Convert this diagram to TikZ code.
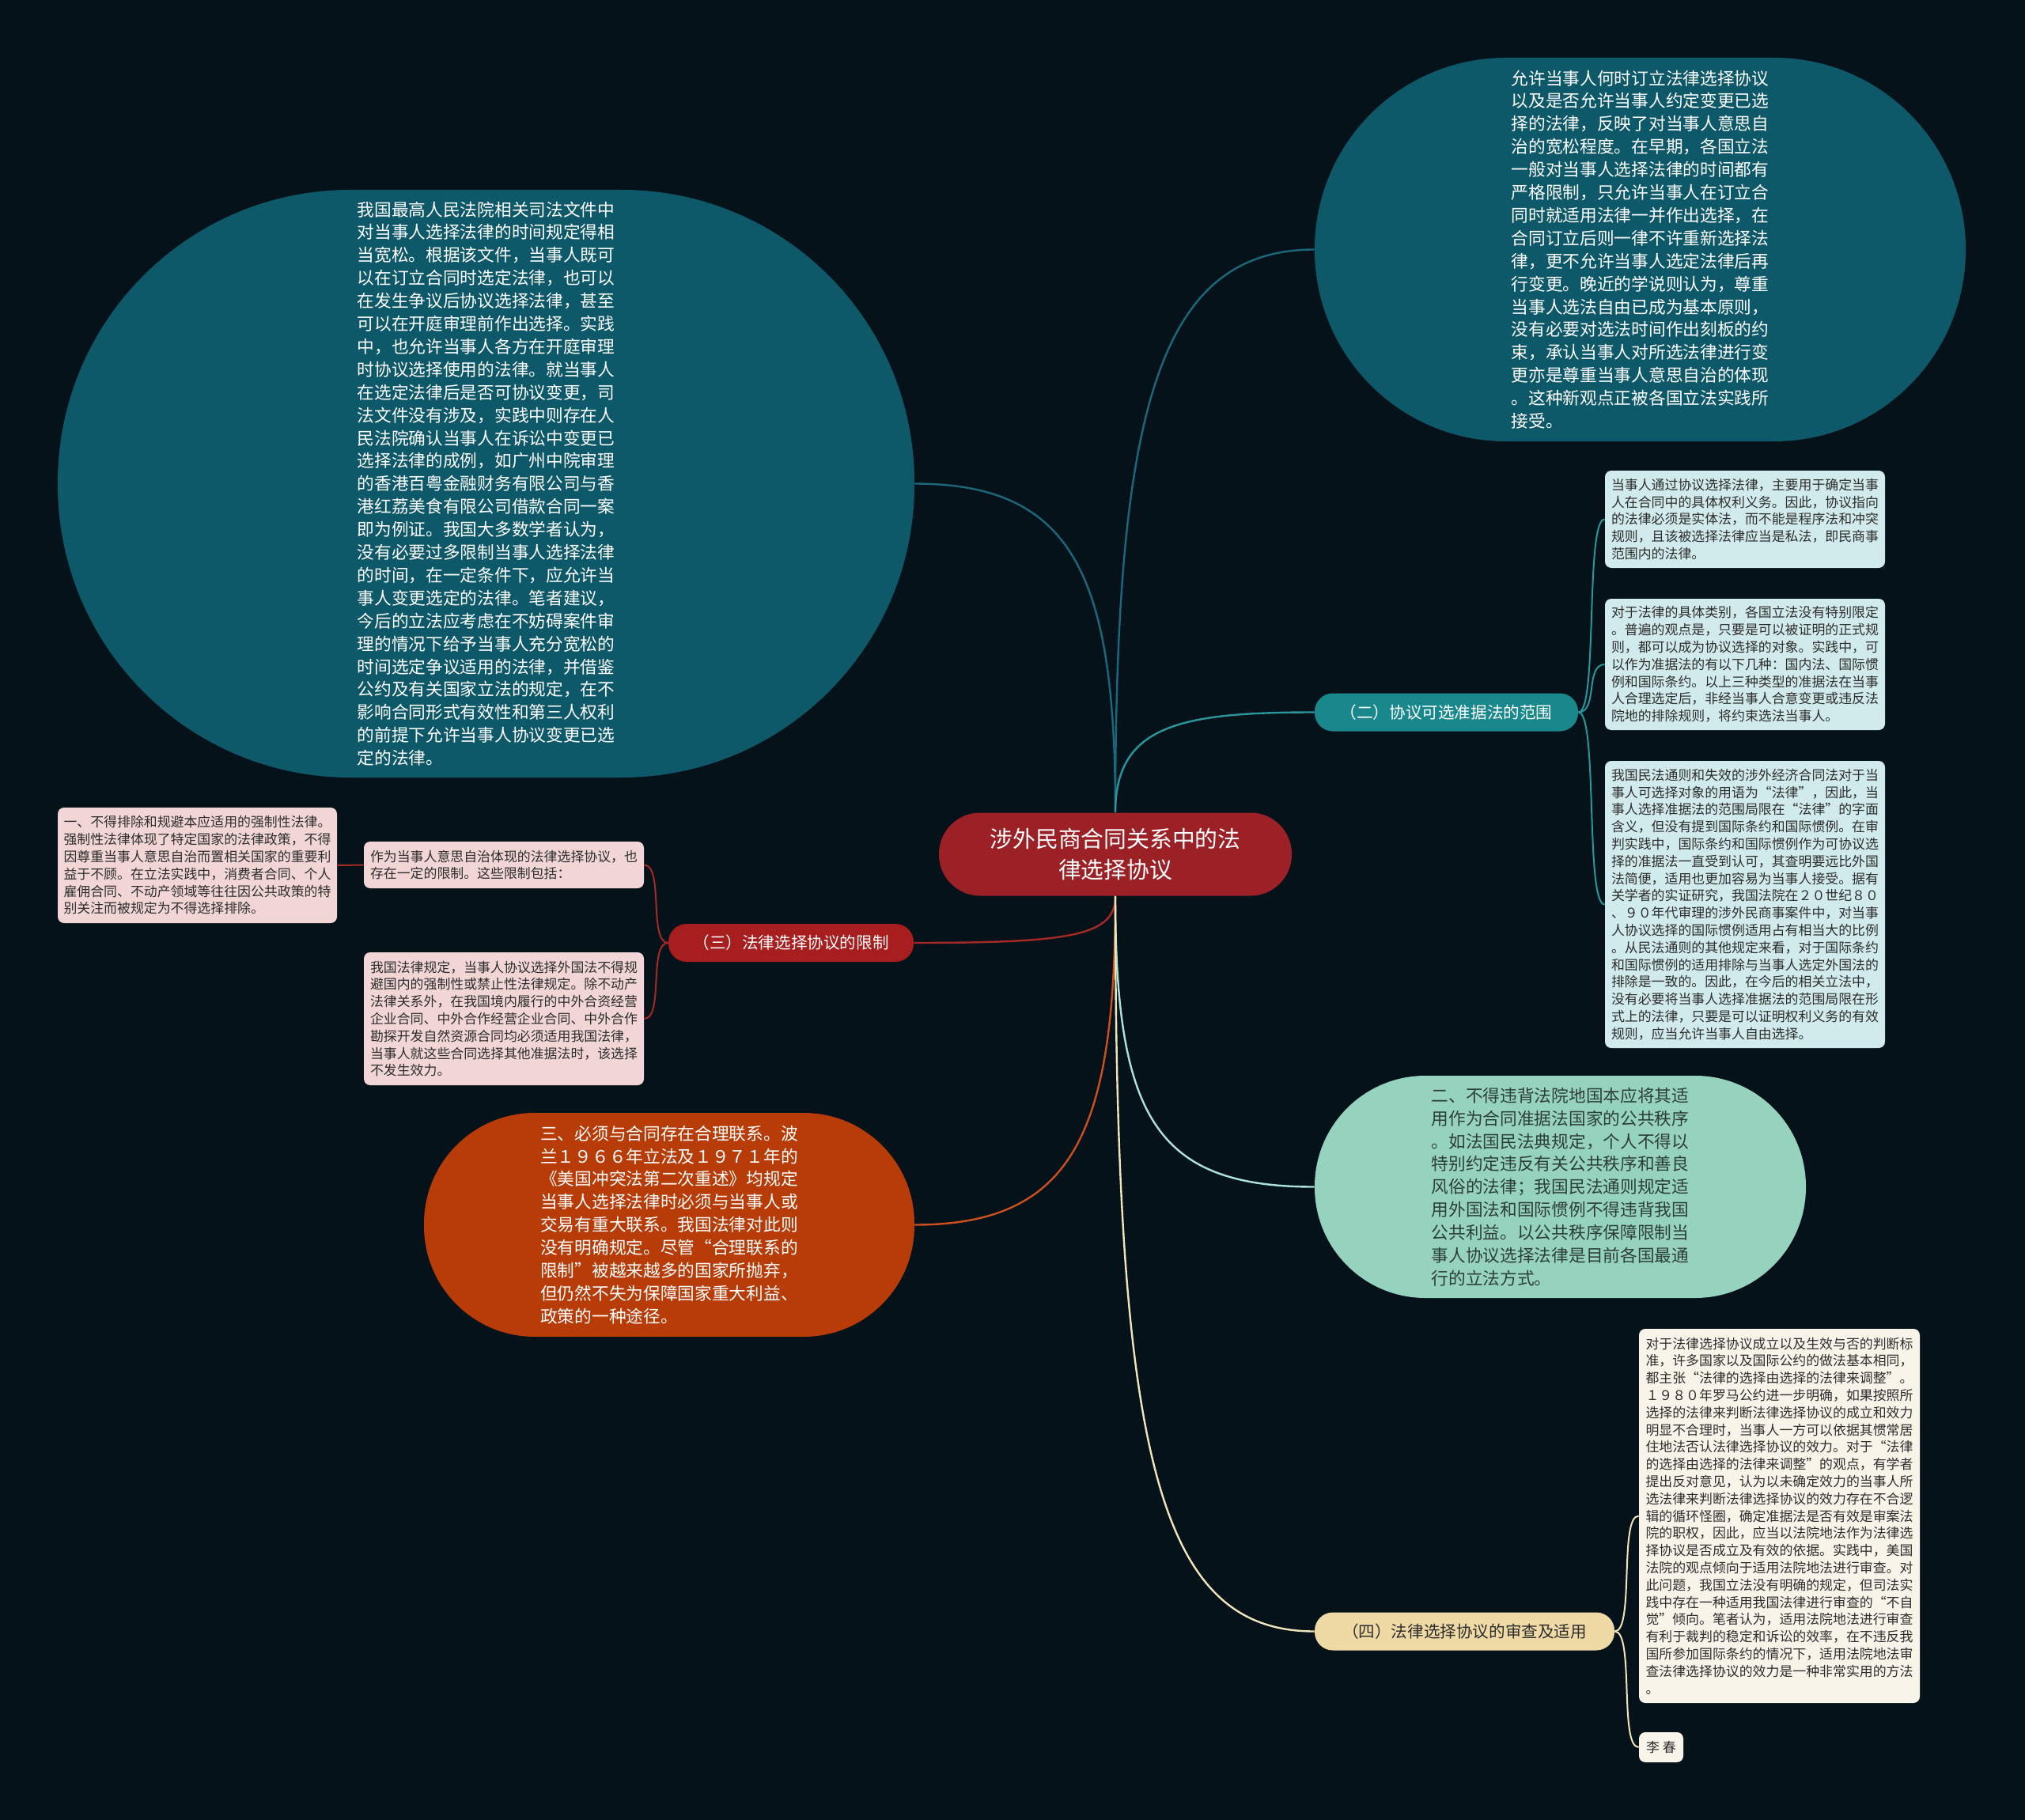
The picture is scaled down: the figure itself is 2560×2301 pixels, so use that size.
\documentclass[tikz,border=0pt]{standalone}
\usepackage{fontspec}
\usepackage{xcolor}
\usepackage{tikz}
\usetikzlibrary{positioning}
\newfontfamily\cjkfont{Noto Sans CJK SC}
\definecolor{bgnavy}{RGB}{6, 18, 26}
\definecolor{rootred}{RGB}{155, 33, 38}
\definecolor{topicteal}{RGB}{14, 89, 105}
\definecolor{linkteal}{RGB}{27, 104, 122}
\definecolor{scopeteal}{RGB}{24, 136, 140}
\definecolor{scopelink}{RGB}{40, 150, 155}
\definecolor{scopecyan}{RGB}{209, 234, 236}
\definecolor{limitred}{RGB}{168, 30, 30}
\definecolor{limitlink}{RGB}{165, 42, 38}
\definecolor{limitpink}{RGB}{242, 214, 214}
\definecolor{nexusorange}{RGB}{184, 60, 8}
\definecolor{nexuslink}{RGB}{204, 80, 30}
\definecolor{ordermint}{RGB}{150, 211, 190}
\definecolor{orderlink}{RGB}{172, 226, 216}
\definecolor{ordertext}{RGB}{45, 62, 57}
\definecolor{reviewtan}{RGB}{239, 218, 166}
\definecolor{reviewlink}{RGB}{240, 228, 186}
\definecolor{reviewcream}{RGB}{248, 244, 233}
\definecolor{leaftext}{RGB}{45, 45, 45}

\begin{document}
\begin{tikzpicture}[
    x=0.5pt, y=-0.5pt,
    root/.style={rectangle, rounded corners=26pt, fill=rootred, text=white, align=center,
                 minimum width=223pt, minimum height=52.5pt, font=\cjkfont\fontsize{14.4}{19.5}\selectfont},
    topic/.style={rectangle, align=left, inner sep=0pt, font=\cjkfont\fontsize{10.85}{14.45}\selectfont},
    branch/.style={rectangle, rounded corners=11.5pt, align=center, inner sep=0pt,
                   minimum height=24pt, font=\cjkfont\fontsize{10.3}{12}\selectfont},
    leaf/.style={rectangle, rounded corners=4pt, align=left, inner sep=3pt, minimum width=177pt,
                 text=leaftext, font=\cjkfont\fontsize{8.45}{10.9}\selectfont},
    link/.style={line width=1.2pt},
    sublink/.style={line width=1pt}
]
    % Background
    \fill[bgnavy] (0,0) rectangle (2560,2301);

    % Root
    \node[root] (root) at (1410,1080) {涉外民商合同关系中的法\\律选择协议};

    % Upper topics
    \node[topic, fill=topicteal, text=white, minimum width=411.5pt, minimum height=242.5pt,
          rounded corners=121pt] (timing) at (2073.5,315.5)
        {允许当事人何时订立法律选择协议\\以及是否允许当事人约定变更已选\\择的法律，反映了对当事人意思自\\治的宽松程度。在早期，各国立法\\一般对当事人选择法律的时间都有\\严格限制，只允许当事人在订立合\\同时就适用法律一并作出选择，在\\合同订立后则一律不许重新选择法\\律，更不允许当事人选定法律后再\\行变更。晚近的学说则认为，尊重\\当事人选法自由已成为基本原则，\\没有必要对选法时间作出刻板的约\\束，承认当事人对所选法律进行变\\更亦是尊重当事人意思自治的体现\\。这种新观点正被各国立法实践所\\接受。};
    \node[topic, fill=topicteal, text=white, minimum width=541.5pt, minimum height=371.5pt,
          rounded corners=185pt] (court) at (614.5,611.5)
        {我国最高人民法院相关司法文件中\\对当事人选择法律的时间规定得相\\当宽松。根据该文件，当事人既可\\以在订立合同时选定法律，也可以\\在发生争议后协议选择法律，甚至\\可以在开庭审理前作出选择。实践\\中，也允许当事人各方在开庭审理\\时协议选择使用的法律。就当事人\\在选定法律后是否可协议变更，司\\法文件没有涉及，实践中则存在人\\民法院确认当事人在诉讼中变更已\\选择法律的成例，如广州中院审理\\的香港百粤金融财务有限公司与香\\港红荔美食有限公司借款合同一案\\即为例证。我国大多数学者认为，\\没有必要过多限制当事人选择法律\\的时间，在一定条件下，应允许当\\事人变更选定的法律。笔者建议，\\今后的立法应考虑在不妨碍案件审\\理的情况下给予当事人充分宽松的\\时间选定争议适用的法律，并借鉴\\公约及有关国家立法的规定，在不\\影响合同形式有效性和第三人权利\\的前提下允许当事人协议变更已选\\定的法律。};

    % Branch (二) and its leaves
    \node[branch, fill=scopeteal, text=white, minimum width=166.5pt] (scope) at (1828.5,900.5)
        {（二）协议可选准据法的范围};
    \node[leaf, fill=scopecyan, minimum height=61.5pt] (scopeA) at (2206,656.5)
        {当事人通过协议选择法律，主要用于确定当事\\人在合同中的具体权利义务。因此，协议指向\\的法律必须是实体法，而不能是程序法和冲突\\规则，且该被选择法律应当是私法，即民商事\\范围内的法律。};
    \node[leaf, fill=scopecyan, minimum height=83pt] (scopeB) at (2206,840)
        {对于法律的具体类别，各国立法没有特别限定\\。普遍的观点是，只要是可以被证明的正式规\\则，都可以成为协议选择的对象。实践中，可\\以作为准据法的有以下几种：国内法、国际惯\\例和国际条约。以上三种类型的准据法在当事\\人合理选定后，非经当事人合意变更或违反法\\院地的排除规则，将约束选法当事人。};
    \node[leaf, fill=scopecyan, minimum height=181.5pt] (scopeC) at (2206,1143.5)
        {我国民法通则和失效的涉外经济合同法对于当\\事人可选择对象的用语为“法律”，因此，当\\事人选择准据法的范围局限在“法律”的字面\\含义，但没有提到国际条约和国际惯例。在审\\判实践中，国际条约和国际惯例作为可协议选\\择的准据法一直受到认可，其查明要远比外国\\法简便，适用也更加容易为当事人接受。据有\\关学者的实证研究，我国法院在２０世纪８０\\、９０年代审理的涉外民商事案件中，对当事\\人协议选择的国际惯例适用占有相当大的比例\\。从民法通则的其他规定来看，对于国际条约\\和国际惯例的适用排除与当事人选定外国法的\\排除是一致的。因此，在今后的相关立法中，\\没有必要将当事人选择准据法的范围局限在形\\式上的法律，只要是可以证明权利义务的有效\\规则，应当允许当事人自由选择。};

    % Branch (三) and its leaves
    \node[branch, fill=limitred, text=white, minimum width=155pt] (limit) at (1000,1192)
        {（三）法律选择协议的限制};
    \node[leaf, fill=limitpink, minimum height=29.5pt] (limitA) at (637,1093.5)
        {作为当事人意思自治体现的法律选择协议，也\\存在一定的限制。这些限制包括：};
    \node[leaf, fill=limitpink, minimum height=84pt] (limitB) at (637,1288)
        {我国法律规定，当事人协议选择外国法不得规\\避国内的强制性或禁止性法律规定。除不动产\\法律关系外，在我国境内履行的中外合资经营\\企业合同、中外合作经营企业合同、中外合作\\勘探开发自然资源合同均必须适用我国法律，\\当事人就这些合同选择其他准据法时，该选择\\不发生效力。};
    \node[leaf, fill=limitpink, minimum width=176.5pt, minimum height=73pt] (mandatory) at (249.5,1094)
        {一、不得排除和规避本应适用的强制性法律。\\强制性法律体现了特定国家的法律政策，不得\\因尊重当事人意思自治而置相关国家的重要利\\益于不顾。在立法实践中，消费者合同、个人\\雇佣合同、不动产领域等往往因公共政策的特\\别关注而被规定为不得选择排除。};

    % Lower topics
    \node[topic, fill=nexusorange, text=white, minimum width=310pt, minimum height=141.5pt,
          rounded corners=70pt] (nexus) at (846,1548.5)
        {三、必须与合同存在合理联系。波\\兰１９６６年立法及１９７１年的\\《美国冲突法第二次重述》均规定\\当事人选择法律时必须与当事人或\\交易有重大联系。我国法律对此则\\没有明确规定。尽管“合理联系的\\限制”被越来越多的国家所抛弃，\\但仍然不失为保障国家重大利益、\\政策的一种途径。};
    \node[topic, fill=ordermint, text=ordertext, minimum width=310.5pt, minimum height=140.5pt,
          rounded corners=70pt] (order) at (1972.5,1500.5)
        {二、不得违背法院地国本应将其适\\用作为合同准据法国家的公共秩序\\。如法国民法典规定，个人不得以\\特别约定违反有关公共秩序和善良\\风俗的法律；我国民法通则规定适\\用外国法和国际惯例不得违背我国\\公共利益。以公共秩序保障限制当\\事人协议选择法律是目前各国最通\\行的立法方式。};

    % Branch (四) and its leaves
    \node[branch, fill=reviewtan, text=leaftext, minimum width=189.5pt] (review) at (1851.5,2062.5)
        {（四）法律选择协议的审查及适用};
    \node[leaf, fill=reviewcream, minimum width=177.5pt, minimum height=236.5pt] (reviewtext) at (2249.5,1916.5)
        {对于法律选择协议成立以及生效与否的判断标\\准，许多国家以及国际公约的做法基本相同，\\都主张“法律的选择由选择的法律来调整”。\\１９８０年罗马公约进一步明确，如果按照所\\选择的法律来判断法律选择协议的成立和效力\\明显不合理时，当事人一方可以依据其惯常居\\住地法否认法律选择协议的效力。对于“法律\\的选择由选择的法律来调整”的观点，有学者\\提出反对意见，认为以未确定效力的当事人所\\选法律来判断法律选择协议的效力存在不合逻\\辑的循环怪圈，确定准据法是否有效是审案法\\院的职权，因此，应当以法院地法作为法律选\\择协议是否成立及有效的依据。实践中，美国\\法院的观点倾向于适用法院地法进行审查。对\\此问题，我国立法没有明确的规定，但司法实\\践中存在一种适用我国法律进行审查的“不自\\觉”倾向。笔者认为，适用法院地法进行审查\\有利于裁判的稳定和诉讼的效率，在不违反我\\国所参加国际条约的情况下，适用法院地法审\\查法律选择协议的效力是一种非常实用的方法\\。};
    \node[leaf, fill=reviewcream, minimum width=28pt, minimum height=19pt, align=center] (author) at (2100,2209)
        {李 春};

    % Links from root
    \draw[link, linkteal] (root.north) .. controls +(0,-500) and +(-200,0) .. (timing.west);
    \draw[link, linkteal] (root.north) .. controls +(0,-300) and +(200,0) .. (court.east);
    \draw[link, scopelink] (root.north) .. controls +(0,-110) and +(-170,0) .. (scope.west);
    \draw[link, limitlink] (root.south) .. controls +(0,50) and +(200,0) .. (limit.east);
    \draw[link, nexuslink] (root.south) .. controls +(0,300) and +(200,0) .. (nexus.east);
    \draw[link, orderlink] (root.south) .. controls +(0,280) and +(-200,0) .. (order.west);
    \draw[link, reviewlink] (root.south) .. controls +(0,700) and +(-200,0) .. (review.west);

    % Links to leaves
    \draw[sublink, scopelink] (scope.east) .. controls +(25,0) and +(-25,0) .. (scopeA.west);
    \draw[sublink, scopelink] (scope.east) .. controls +(25,0) and +(-25,0) .. (scopeB.west);
    \draw[sublink, scopelink] (scope.east) .. controls +(25,0) and +(-25,0) .. (scopeC.west);
    \draw[sublink, limitlink] (limit.west) .. controls +(-25,0) and +(25,0) .. (limitA.east);
    \draw[sublink, limitlink] (limit.west) .. controls +(-25,0) and +(25,0) .. (limitB.east);
    \draw[sublink, limitlink] (limitA.west) -- (mandatory.east);
    \draw[sublink, reviewlink] (review.east) .. controls +(25,0) and +(-25,0) .. (reviewtext.west);
    \draw[sublink, reviewlink] (review.east) .. controls +(25,0) and +(-25,0) .. (author.west);
\end{tikzpicture}
\end{document}
